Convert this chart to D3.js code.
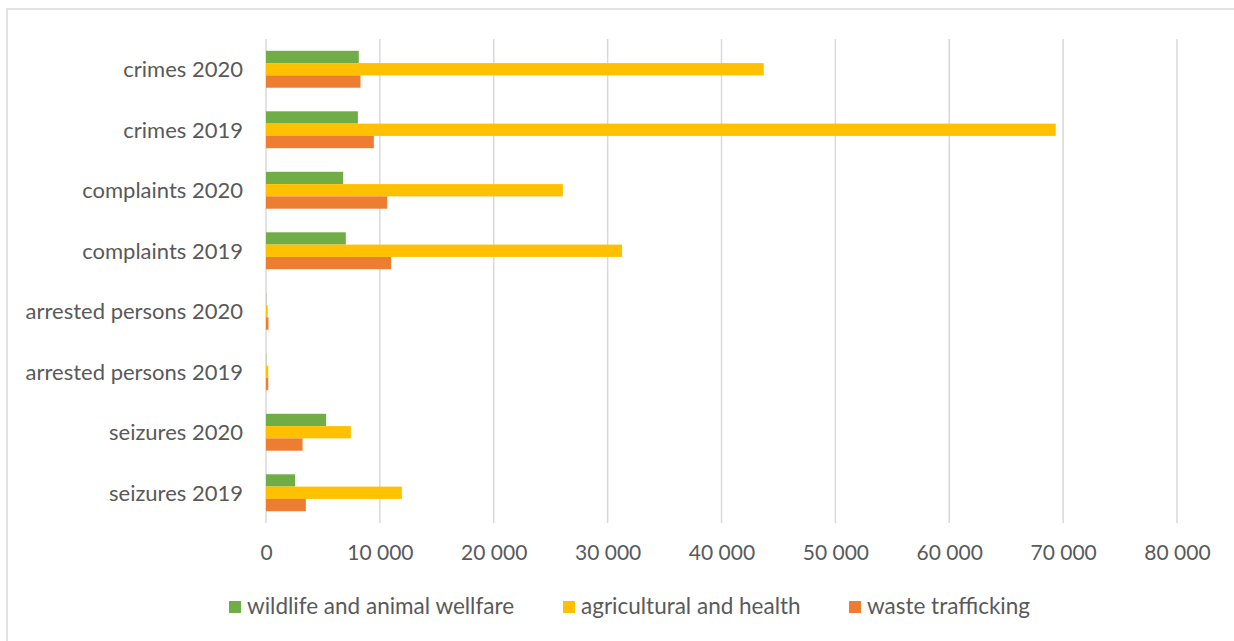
<!DOCTYPE html>
<html>
<head>
<meta charset="utf-8">
<script src="https://cdn.jsdelivr.net/npm/d3@7"></script>
<style>
  html, body { margin: 0; padding: 0; background: #fff; }
  svg { display: block; }
  text { font-family: Lato, "Open Sans", sans-serif; fill: #595959; }
</style>
</head>
<body>
<svg id="chart" width="1234" height="641"></svg>
<script>
// Categories, listed top to bottom
const categories = [
  "crimes 2020", "crimes 2019",
  "complaints 2020", "complaints 2019",
  "arrested persons 2020", "arrested persons 2019",
  "seizures 2020", "seizures 2019"
];
const seriesNames = ["wildlife and animal wellfare", "agricultural and health", "waste trafficking"];
const wildlife     = [8150, 8070, 6780, 7010, 20, 20, 5280, 2560];
const agricultural = [43710, 69350, 26070, 31270, 150, 200, 7450, 11930];
const waste        = [8300, 9470, 10640, 10990, 220, 200, 3210, 3500];
const tickValues   = [0, 10000, 20000, 30000, 40000, 50000, 60000, 70000, 80000];
const colors = ["#70AD47", "#FFC000", "#ED7D31"];

const seriesValues = [wildlife, agricultural, waste];
const svg = d3.select("#chart");

// outer chart frame (right and bottom edges fall outside the canvas)
svg.append("rect")
  .attr("x", 7).attr("y", 9)
  .attr("width", 1240).attr("height", 650)
  .attr("fill", "none").attr("stroke", "#d9d9d9").attr("stroke-width", 1.5);

const x = d3.scaleLinear().domain([0, 80000]).range([266, 1177]);
const y = d3.scaleBand().domain(categories).range([39, 523])
  .paddingInner(0.39).paddingOuter(0.195);
const ySub = d3.scaleBand().domain(d3.range(seriesNames.length)).range([0, y.bandwidth()]);

// vertical gridlines
svg.append("g").selectAll("line").data(tickValues).join("line")
  .attr("x1", d => x(d)).attr("x2", d => x(d))
  .attr("y1", 39).attr("y2", 523)
  .attr("stroke", "#d9d9d9").attr("stroke-width", 1.5);

// bars
const rows = categories.map((c, i) => ({ cat: c, vals: seriesValues.map(s => s[i]) }));
svg.append("g").selectAll("g").data(rows).join("g")
  .attr("transform", d => `translate(0,${y(d.cat)})`)
  .selectAll("rect").data(d => d.vals.map((v, k) => ({ v, k }))).join("rect")
  .attr("x", x(0))
  .attr("y", d => ySub(d.k))
  .attr("width", d => x(d.v) - x(0))
  .attr("height", ySub.bandwidth())
  .attr("fill", d => colors[d.k]);

// category axis labels
const fmt = d => d3.format(",")(d).replace(/,/g, " ");
const yAxis = d3.axisLeft(y).tickSize(0).tickPadding(0);
const gy = svg.append("g").attr("transform", `translate(${x(0) - 23},1)`).call(yAxis);
gy.select(".domain").remove();
gy.selectAll("text").attr("font-size", 22).style("font-family", "Lato").attr("fill", "#595959");

// value axis labels
const xAxis = d3.axisBottom(x).tickValues(tickValues).tickFormat(fmt).tickSize(0).tickPadding(0);
const gx = svg.append("g").attr("transform", "translate(0,545)").call(xAxis);
gx.select(".domain").remove();
gx.selectAll("text").attr("font-size", 21).style("font-family", "Lato").attr("fill", "#595959");

// legend
const legendX = [229, 563, 849];
const lg = svg.append("g").selectAll("g").data(seriesNames).join("g")
  .attr("transform", (d, i) => `translate(${legendX[i]},601)`);
lg.append("rect").attr("width", 12).attr("height", 12).attr("fill", (d, i) => colors[i]);
lg.append("text").attr("x", 18).attr("y", 13).attr("font-size", 22.5)
  .text(d => d);
</script>
</body>
</html>
